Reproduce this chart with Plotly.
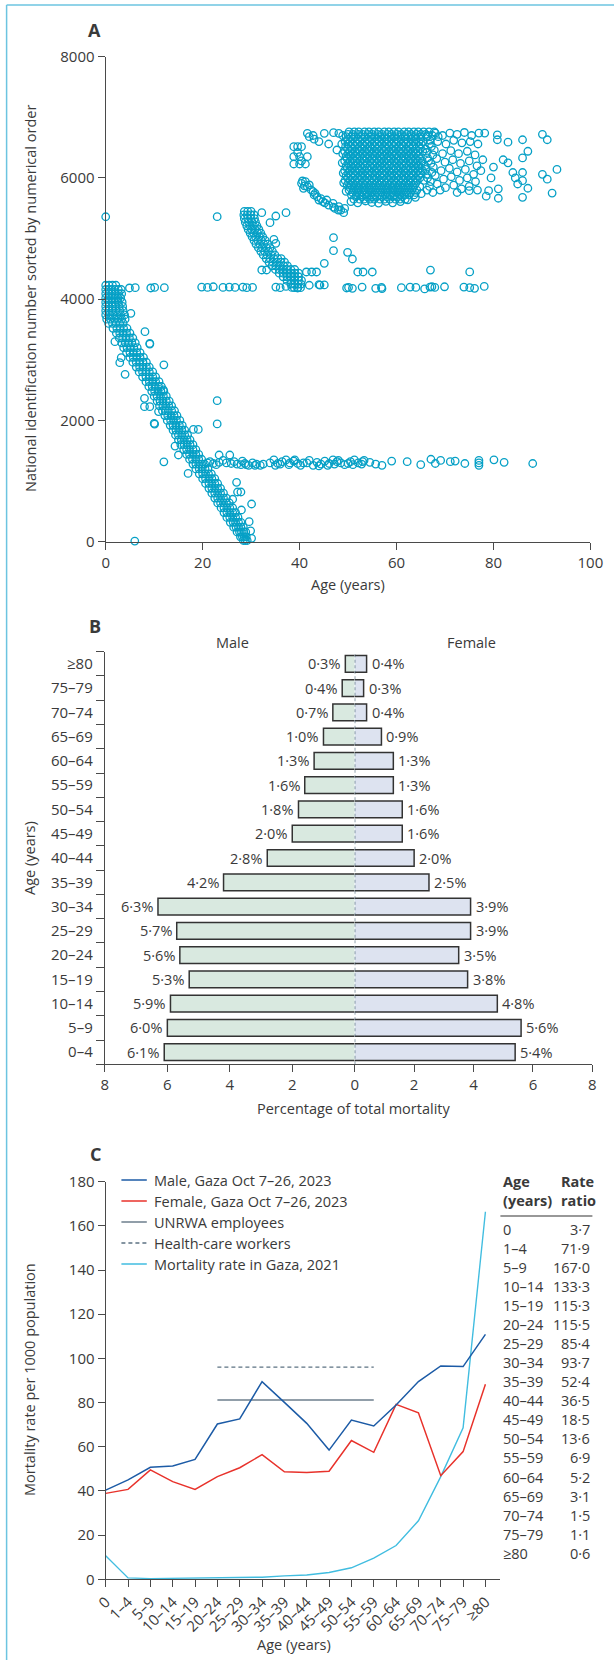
import plotly.graph_objects as go

W, H = 614, 1660
def PX(x): return x / W
def PY(y): return 1 - y / H

FONT = "Open Sans"
TXT = "#3a3a3a"
AXC = "#4a4a4a"
CYAN = "#06a0c6"

# ---------------- Panel A data: (age, national id rank) ----------------
band_rows = [
    (4230, [0.0, 0.7, 1.4, 2.1]),
    (4160, [0.0, 0.6, 1.2, 1.9, 2.6, 3.2]),
    (4090, [0.0, 0.7, 1.3, 2.0, 2.7, 3.3]),
    (4020, [0.0, 0.6, 1.2, 1.8, 2.5, 3.1]),
    (3950, [0.0, 0.6, 1.3, 1.9, 2.6, 3.4]),
    (3880, [0.0, 0.7, 1.4, 2.0, 2.8, 3.5]),
    (3810, [0.0, 0.6, 1.3, 2.1, 2.9, 3.6]),
    (3740, [0.0, 0.8, 1.5, 2.3, 3.1, 3.9]),
    (3670, [0.2, 1.0, 1.8, 2.5, 3.3, 4.0]),
    (3600, [0.6, 1.4, 2.1, 2.9, 3.6]),
    (3520, [1.5, 2.3, 3.0, 3.7, 4.4]),
    (3440, [2.2, 2.9, 3.6, 4.3, 5.0]),
    (3360, [2.8, 3.5, 4.2, 4.9, 5.6]),
    (3280, [3.3, 4.0, 4.7, 5.4, 6.1]),
    (3200, [3.7, 4.4, 5.1, 5.8, 6.5]),
    (3120, [4.3, 5.0, 5.7, 6.4, 7.1]),
    (3040, [5.0, 5.7, 6.4, 7.1, 7.8]),
    (2960, [5.6, 6.3, 7.0, 7.7, 8.4]),
    (2880, [6.3, 7.0, 7.7, 8.4, 9.0]),
    (2800, [6.9, 7.6, 8.3, 9.0, 9.7]),
    (2720, [7.6, 8.3, 9.0, 9.7, 10.3]),
    (2640, [8.3, 9.0, 9.7, 10.3, 11.0]),
    (2560, [8.9, 9.6, 10.2, 10.9, 11.5]),
    (2480, [9.5, 10.1, 10.8, 11.4, 12.0]),
    (2400, [10.0, 10.6, 11.3, 11.9, 12.5]),
    (2320, [10.6, 11.2, 11.8, 12.5, 13.1]),
    (2240, [11.1, 11.8, 12.4, 13.0, 13.6]),
    (2160, [11.7, 12.3, 12.9, 13.6, 14.2]),
    (2080, [12.2, 12.8, 13.5, 14.1, 14.7]),
    (2000, [12.7, 13.4, 14.0, 14.6, 15.3]),
    (1920, [13.3, 13.9, 14.5, 15.2, 15.8]),
    (1840, [13.9, 14.5, 15.1, 15.7, 16.3]),
    (1760, [14.4, 15.0, 15.7, 16.3, 16.9]),
    (1680, [15.0, 15.6, 16.2, 16.8, 17.4]),
    (1600, [15.5, 16.2, 16.8, 17.4, 18.0]),
    (1520, [16.1, 16.7, 17.3, 18.0, 18.6]),
    (1440, [16.7, 17.3, 18.0, 18.6, 19.2]),
    (1360, [17.3, 17.9, 18.6, 19.2, 19.8]),
    (1280, [18.0, 18.6, 19.2, 19.8, 20.4]),
    (1200, [18.6, 19.3, 19.9, 20.5, 21.1]),
    (1120, [19.3, 20.0, 20.6, 21.2, 21.8]),
    (1040, [20.0, 20.6, 21.3, 21.9, 22.5]),
    (960,  [20.6, 21.3, 21.9, 22.5, 23.1]),
    (880,  [21.3, 21.9, 22.5, 23.1, 23.7]),
    (800,  [21.9, 22.5, 23.1, 23.7, 24.3]),
    (720,  [22.5, 23.1, 23.7, 24.3, 24.9]),
    (640,  [23.1, 23.7, 24.3, 24.9, 25.5]),
    (560,  [23.8, 24.4, 25.0, 25.6, 26.2]),
    (480,  [24.4, 25.0, 25.6, 26.2, 26.8]),
    (400,  [25.0, 25.6, 26.2, 26.8, 27.3]),
    (320,  [25.7, 26.3, 26.8, 27.4, 27.9]),
    (240,  [26.4, 26.9, 27.4, 27.9, 28.4]),
    (160,  [27.1, 27.6, 28.0, 28.5, 28.9]),
    (80,   [27.8, 28.2, 28.6, 29.0]),
    (20,   [28.4, 28.8, 29.2]),
]

band_outliers = [
    (8.1, 3464), (9.1, 3271), (9.1, 3260), (12.0, 2918), (4.0, 2761), (2.9, 2953),
    (5.2, 3767), (1.9, 3300), (3.2, 3036), (10.0, 1952), (10.1, 1940), (12.0, 1318),
    (23.0, 2327), (23.0, 1942), (18.1, 1852), (19.1, 1852), (8.0, 2365), (8.0, 2228),
    (9.1, 2228), (10.9, 2146), (11.9, 2503), (14.3, 1578), (15.0, 1430), (17.0, 1127),
    (27.2, 820), (27.9, 820), (28.0, 523), (30.1, 622), (30.1, 55), (6.0, 11), (0.0, 5360),
    (29.6, 330), (29.9, 180), (27.0, 980), (26.2, 700),
]

row_4200 = [
    (4.9, 4185), (6.1, 4190), (9.3, 4185), (10.1, 4195), (12.1, 4190), (19.8, 4200),
    (21.0, 4195), (22.2, 4205), (24.2, 4195), (25.5, 4200), (26.7, 4195), (28.3, 4200),
    (29.1, 4190), (30.3, 4195), (35.1, 4200), (36.0, 4190), (37.2, 4210), (38.4, 4195),
    (39.6, 4185), (42.0, 4230), (44.0, 4240), (45.1, 4235), (49.7, 4185), (50.1, 4195),
    (50.9, 4180), (52.9, 4200), (55.7, 4180), (56.9, 4195), (57.0, 4175), (61.0, 4190),
    (62.8, 4200), (64.0, 4195), (65.8, 4170), (66.9, 4200), (67.3, 4205), (67.9, 4195),
    (69.9, 4205), (73.9, 4200), (75.1, 4190), (76.1, 4180), (78.1, 4210),
]

mid_rows = [
    (5450, [28.6, 29.3, 30.0]),
    (5390, [28.5, 29.2, 29.9, 30.6]),
    (5330, [28.6, 29.3, 30.0, 30.7]),
    (5270, [28.8, 29.5, 30.2, 30.9]),
    (5210, [29.1, 29.8, 30.5, 31.2]),
    (5150, [29.4, 30.1, 30.8, 31.6]),
    (5090, [29.8, 30.5, 31.3, 32.0]),
    (5030, [30.2, 30.9, 31.7, 32.4]),
    (4970, [30.6, 31.4, 32.1, 32.9]),
    (4910, [31.0, 31.8, 32.6, 33.4]),
    (4850, [31.5, 32.3, 33.1, 33.9]),
    (4790, [32.0, 32.8, 33.6, 34.4]),
    (4730, [32.5, 33.3, 34.1, 34.9]),
    (4670, [33.1, 33.9, 34.7, 35.5, 36.2]),
    (4610, [33.7, 34.5, 35.3, 36.1, 36.9]),
    (4550, [34.3, 35.1, 35.9, 36.7, 37.5]),
    (4490, [35.0, 35.8, 36.6, 37.4, 38.2, 39.0]),
    (4430, [35.8, 36.6, 37.4, 38.2, 39.0, 39.8]),
    (4370, [36.6, 37.4, 38.2, 39.0, 39.8]),
    (4310, [37.4, 38.2, 39.0, 39.8, 40.4]),
    (4250, [38.2, 39.0, 39.7, 40.3]),
    (4190, [38.9, 39.6, 40.2]),
]

mid_outliers = [
    (32.2, 5427), (35.1, 5372), (33.9, 5262), (37.2, 5427), (34.7, 4988), (35.1, 4922),
    (47.0, 5015), (47.0, 4800), (45.1, 4592), (49.9, 4773), (50.9, 4663), (23.0, 5361),
    (32.2, 4482), (33.2, 4482), (41.4, 4449), (42.5, 4449), (43.5, 4449), (52.0, 4449),
    (53.1, 4449), (55.0, 4449), (67.0, 4480), (75.1, 4450), (44.2, 4233),
]

upper_small = [
    (38.8, 6516), (39.6, 6516), (40.4, 6516), (38.8, 6351), (40.0, 6351), (41.6, 6351),
    (38.8, 6230), (40.0, 6230), (41.2, 6230), (41.6, 6736), (42.0, 6681), (42.8, 6700),
    (45.1, 6736), (47.0, 6747), (48.1, 6736), (46.0, 6560), (47.7, 6461), (39.6, 6420),
    (40.4, 6280), (43.0, 6640), (44.0, 6600),
]

upper_diag = [
    (40.4, 5911), (41.2, 5938), (42.0, 5884), (40.8, 5829), (41.6, 5856), (42.4, 5801),
    (43.2, 5746), (43.6, 5691), (44.0, 5636), (44.8, 5609), (45.6, 5636), (46.0, 5553),
    (46.9, 5581), (47.3, 5498), (48.1, 5526), (48.5, 5471), (49.1, 5427), (49.3, 5498),
    (41.0, 5870), (42.8, 5775), (44.4, 5660), (45.2, 5590), (47.0, 5520), (48.0, 5470),
    (40.6, 5950), (43.0, 5720),
]

core_rows = [
    (6760, [50.2, 51.3, 52.2, 53.4, 54.3, 55.4, 56.3, 57.5, 58.4, 59.5, 60.4, 61.6, 62.5, 63.6, 64.5, 65.6, 66.7, 67.8]),
    (6680, [49.6, 50.7, 51.6, 52.7, 53.6, 54.8, 55.7, 56.8, 57.7, 58.9, 59.8, 60.9, 61.8, 63.0, 63.9, 65.0, 66.2]),
    (6600, [49.4, 50.4, 51.5, 52.4, 53.5, 54.4, 55.5, 56.4, 57.5, 58.4, 59.5, 60.4, 61.5, 62.4, 63.5, 64.6, 65.5]),
    (6520, [49.5, 50.6, 51.5, 52.6, 53.5, 54.6, 55.6, 56.5, 57.6, 58.5, 59.6, 60.6, 61.5, 62.6, 63.5, 64.7]),
    (6440, [49.3, 50.3, 51.4, 52.3, 53.4, 54.3, 55.4, 56.4, 57.3, 58.4, 59.3, 60.4, 61.4, 62.3, 63.4, 64.4, 65.4]),
    (6360, [49.6, 50.6, 51.6, 52.5, 53.6, 54.5, 55.6, 56.6, 57.5, 58.6, 59.6, 60.5, 61.6, 62.6, 63.6, 64.6]),
    (6280, [49.3, 50.4, 51.3, 52.4, 53.3, 54.4, 55.4, 56.3, 57.4, 58.3, 59.4, 60.4, 61.3, 62.4, 63.4, 64.3, 65.3]),
    (6200, [49.6, 50.6, 51.6, 52.6, 53.5, 54.6, 55.5, 56.6, 57.6, 58.5, 59.6, 60.6, 61.5, 62.6, 63.6, 64.6]),
    (6120, [49.3, 50.3, 51.4, 52.3, 53.4, 54.3, 55.4, 56.4, 57.3, 58.4, 59.4, 60.3, 61.4, 62.4, 63.3, 64.4, 65.4]),
    (6040, [49.6, 50.6, 51.5, 52.6, 53.6, 54.5, 55.6, 56.6, 57.5, 58.6, 59.6, 60.5, 61.6, 62.6, 63.5, 64.6]),
    (5960, [49.4, 50.4, 51.4, 52.3, 53.4, 54.4, 55.3, 56.4, 57.4, 58.3, 59.4, 60.4, 61.3, 62.4, 63.4, 64.3]),
    (5880, [49.8, 50.7, 51.7, 52.7, 53.6, 54.7, 55.7, 56.6, 57.7, 58.7, 59.6, 60.7, 61.7, 62.6, 63.7]),
    (5800, [50.2, 51.2, 52.1, 53.2, 54.2, 55.1, 56.2, 57.2, 58.1, 59.2, 60.2, 61.1, 62.2, 63.2, 64.2]),
    (5720, [50.7, 51.7, 52.6, 53.7, 54.7, 55.6, 56.7, 57.7, 58.7, 59.6, 60.7, 61.7, 62.6, 63.6]),
    (5650, [51.2, 52.4, 53.3, 54.5, 55.4, 56.6, 57.5, 58.6, 59.8, 60.7, 61.8]),
]

core_rows_between = [
    (6720, [50.0, 51.0, 52.1, 53.0, 54.1, 55.0, 56.1, 57.0, 58.1, 59.0, 60.1, 61.0, 62.1, 63.0, 64.1, 65.0, 66.0]),
    (6640, [49.9, 50.9, 52.0, 52.9, 54.0, 54.9, 56.0, 56.9, 58.0, 58.9, 60.0, 60.9, 62.0, 62.9, 64.0, 65.0]),
    (6560, [50.0, 51.0, 51.9, 53.0, 53.9, 55.0, 56.0, 56.9, 58.0, 59.0, 59.9, 61.0, 62.0, 62.9, 64.0, 65.1]),
    (6480, [49.9, 50.8, 51.9, 52.8, 53.9, 54.8, 55.9, 56.9, 57.8, 58.9, 59.8, 60.9, 61.9, 62.8, 63.9, 64.9]),
    (6400, [50.1, 51.1, 52.0, 53.1, 54.0, 55.1, 56.1, 57.0, 58.1, 59.1, 60.0, 61.1, 62.1, 63.1, 64.1]),
    (6320, [49.8, 50.9, 51.8, 52.9, 53.8, 54.9, 55.9, 56.8, 57.9, 58.8, 59.9, 60.9, 61.8, 62.9, 63.9, 64.8]),
    (6240, [50.1, 51.1, 52.1, 53.1, 54.0, 55.1, 56.0, 57.1, 58.1, 59.0, 60.1, 61.1, 62.0, 63.1, 64.1, 65.1]),
    (6160, [49.8, 50.8, 51.9, 52.8, 53.9, 54.8, 55.9, 56.9, 57.8, 58.9, 59.9, 60.8, 61.9, 62.9, 63.8, 64.9]),
    (6080, [50.1, 51.1, 52.0, 53.1, 54.1, 55.0, 56.1, 57.1, 58.0, 59.1, 60.1, 61.0, 62.1, 63.1, 64.0, 65.0]),
    (6000, [49.9, 50.9, 51.9, 52.8, 53.9, 54.9, 55.8, 56.9, 57.9, 58.8, 59.9, 60.9, 61.8, 62.9, 63.9, 64.8]),
    (5920, [50.1, 51.0, 52.0, 53.0, 54.0, 55.0, 56.0, 57.0, 58.0, 59.0, 60.0, 61.0, 62.0, 63.0, 64.0]),
    (5840, [50.4, 51.4, 52.4, 53.4, 54.4, 55.4, 56.4, 57.4, 58.4, 59.4, 60.4, 61.4, 62.4, 63.4]),
    (5760, [50.9, 51.9, 52.9, 53.9, 54.9, 55.9, 56.9, 57.9, 58.9, 59.9, 60.9, 61.9, 62.9, 63.9]),
    (5690, [51.6, 52.9, 53.9, 55.0, 55.9, 57.0, 58.0, 59.2, 60.2, 61.2]),
]

core_edges = [
    (50.6, 5610), (52.0, 5590), (53.6, 5620), (54.9, 5595), (56.3, 5585), (57.8, 5615),
    (59.2, 5590), (60.8, 5610), (62.3, 5640), (63.9, 5680), (65.1, 5740), (64.8, 5860),
    (65.6, 5960), (66.2, 6060), (65.9, 6200), (66.4, 6330), (66.0, 6480), (66.9, 6620),
    (48.9, 6700), (48.7, 6560), (48.9, 6400), (48.8, 6250), (49.0, 6080), (49.1, 5920),
    (49.6, 5780), (67.4, 6700), (68.6, 6680), (67.2, 6520), (67.5, 6380), (67.1, 6240),
    (67.3, 6090), (67.0, 5940), (66.3, 5800),
]

core_sparse = [
    (66.5, 6700), (68.0, 6740), (69.5, 6700), (71.0, 6740), (72.5, 6720), (74.0, 6750),
    (75.5, 6700), (77.0, 6740), (66.8, 6560), (68.5, 6600), (70.2, 6560), (71.8, 6620),
    (73.5, 6580), (75.2, 6600), (76.8, 6560), (66.2, 6420), (67.8, 6460), (69.5, 6400),
    (71.2, 6450), (72.8, 6400), (74.6, 6440), (76.2, 6380), (77.8, 6300), (66.6, 6280),
    (68.3, 6320), (70.0, 6260), (71.6, 6300), (73.2, 6240), (75.0, 6280), (76.6, 6200),
    (66.0, 6140), (67.6, 6180), (69.2, 6120), (70.9, 6160), (72.5, 6100), (74.2, 6140),
    (75.9, 6060), (77.4, 6120), (66.4, 6000), (68.0, 6040), (69.7, 5980), (71.3, 6020),
    (73.0, 5960), (74.6, 6000), (76.3, 5940), (66.8, 5860), (68.4, 5900), (70.1, 5840),
    (71.8, 5880), (73.4, 5820), (75.0, 5860), (76.7, 5800), (67.5, 5760), (69.0, 5800),
    (72.5, 5760), (75.0, 5790),
]

core_outliers = [
    (80.8, 6710), (80.8, 6630), (83.0, 6590), (86.0, 6630), (87.1, 6440), (86.0, 6330),
    (90.1, 6720), (91.1, 6630), (93.1, 6140), (90.1, 6060), (91.1, 5980), (92.1, 5750),
    (87.1, 5830), (86.0, 5680), (86.0, 5955), (86.0, 6090), (84.0, 6090), (83.0, 6250),
    (81.0, 5665), (81.0, 5820), (79.0, 5790), (78.2, 6740), (82.0, 6300), (80.0, 6180),
    (79.5, 6000), (84.5, 6000), (85.0, 5900), (78.5, 5700),
]

row_1300 = [
    (21.0, 1300), (22.2, 1290), (23.4, 1310), (24.9, 1300), (25.9, 1290), (27.1, 1280),
    (27.9, 1270), (28.7, 1290), (29.5, 1260), (30.3, 1300), (31.1, 1280), (31.9, 1260),
    (33.9, 1300), (34.7, 1350), (35.5, 1290), (36.4, 1320), (37.2, 1350), (38.0, 1300),
    (38.8, 1330), (39.6, 1290), (40.8, 1300), (42.0, 1340), (42.8, 1260), (43.6, 1310),
    (44.4, 1280), (45.2, 1330), (46.1, 1290), (46.9, 1350), (47.7, 1320), (48.5, 1300),
    (49.3, 1270), (50.5, 1320), (51.3, 1350), (52.1, 1300), (53.3, 1340), (54.5, 1310),
    (55.7, 1280), (57.0, 1260), (59.0, 1330), (62.2, 1320), (65.0, 1270), (67.1, 1360),
    (68.0, 1290), (69.1, 1340), (71.1, 1320), (72.1, 1330), (74.1, 1290), (77.0, 1260),
    (77.0, 1300), (77.0, 1340), (80.1, 1350), (82.2, 1310), (88.1, 1290), (23.4, 1430),
    (25.6, 1430), (21.5, 1320), (22.8, 1270), (24.2, 1340), (26.5, 1320), (28.2, 1330),
    (29.0, 1270), (30.8, 1260), (32.5, 1280), (35.0, 1260), (36.0, 1280), (37.8, 1270),
    (39.0, 1350), (40.2, 1260), (41.5, 1300), (44.0, 1250), (45.8, 1260), (47.2, 1280),
    (48.0, 1340), (50.0, 1290), (51.0, 1270), (52.8, 1280), (53.0, 1320),
]

# ---------------- Panel B data ----------------
age_groups_b = ["0–4", "5–9", "10–14", "15–19", "20–24", "25–29", "30–34", "35–39",
                "40–44", "45–49", "50–54", "55–59", "60–64", "65–69", "70–74", "75–79", "≥80"]
male_pct = [6.1, 6.0, 5.9, 5.3, 5.6, 5.7, 6.3, 4.2, 2.8, 2.0, 1.8, 1.6, 1.3, 1.0, 0.7, 0.4, 0.3]
female_pct = [5.4, 5.6, 4.8, 3.8, 3.5, 3.9, 3.9, 2.5, 2.0, 1.6, 1.6, 1.3, 1.3, 0.9, 0.4, 0.3, 0.4]

# ---------------- Panel C data ----------------
age_groups_c = ["0", "1–4", "5–9", "10–14", "15–19", "20–24", "25–29", "30–34", "35–39",
                "40–44", "45–49", "50–54", "55–59", "60–64", "65–69", "70–74", "75–79", "≥80"]
male_rate = [40.4, 45.0, 50.7, 51.3, 54.3, 70.3, 72.6, 89.5, 80.1, 70.6, 58.5, 72.1, 69.4, 78.9, 89.5, 96.6, 96.3, 110.9]
female_rate = [38.9, 40.7, 49.5, 44.2, 40.7, 46.5, 50.5, 56.4, 48.7, 48.4, 48.9, 62.8, 57.5, 79.2, 75.4, 46.9, 57.8, 88.3]
gaza2021_rate = [10.7, 0.63, 0.30, 0.39, 0.47, 0.61, 0.85, 0.96, 1.53, 1.93, 3.1, 5.2, 9.6, 15.3, 26.5, 46.5, 68.6, 166.4]
unrwa_rate = 81.2
hcw_rate = 96.1
unrwa_span = ["20–24", "55–59"]
rate_ratio = ["3·7", "71·9", "167·0", "133·3", "115·3", "115·5", "85·4", "93·7", "52·4",
              "36·5", "18·5", "13·6", "6·9", "5·2", "3·1", "1·5", "1·1", "0·6"]

legend_items = ["Male, Gaza Oct 7–26, 2023", "Female, Gaza Oct 7–26, 2023", "UNRWA employees",
                "Health-care workers", "Mortality rate in Gaza, 2021"]

# ---------------- Build panel A points ----------------
ax, ay = [], []
for rid, ages in band_rows + mid_rows + core_rows + core_rows_between:
    for a in ages:
        ax.append(a); ay.append(rid)
for pts in (band_outliers, row_4200, mid_outliers, upper_small, upper_diag, core_edges,
            core_sparse, core_outliers, row_1300):
    for a, i in pts:
        ax.append(a); ay.append(i)

fig = go.Figure()

fig.add_trace(go.Scatter(
    x=ax, y=ay, mode="markers", xaxis="x", yaxis="y", cliponaxis=False,
    marker=dict(symbol="circle-open", size=7.5, color=CYAN, line=dict(width=1.3, color=CYAN)),
    showlegend=False, hoverinfo="skip"))

# ---------------- Panel B traces ----------------
MALE_FILL = "#d9e9e0"
FEM_FILL = "#dde3f0"
ypos = list(range(len(age_groups_b)))
half = 0.345
fmt = lambda v: f"{v:.1f}%".replace(".", "·")

fig.add_trace(go.Bar(
    x=male_pct, y=ypos, orientation="h", xaxis="x2", yaxis="y2", width=2 * half,
    marker=dict(color=MALE_FILL, line=dict(width=0)), showlegend=False, hoverinfo="skip"))
fig.add_trace(go.Bar(
    x=female_pct, y=ypos, orientation="h", xaxis="x3", yaxis="y2", width=2 * half,
    marker=dict(color=FEM_FILL, line=dict(width=0)), showlegend=False, hoverinfo="skip"))

for vals, xa in ((male_pct, "x2"), (female_pct, "x3")):
    ox, oy = [], []
    for i, v in enumerate(vals):
        ox += [0, v, v, 0, None]
        oy += [i + half, i + half, i - half, i - half, None]
    fig.add_trace(go.Scatter(x=ox, y=oy, mode="lines", xaxis=xa, yaxis="y2",
                             line=dict(color="#333333", width=1.5), cliponaxis=False,
                             showlegend=False, hoverinfo="skip"))

# ---------------- Panel C traces ----------------
xi = list(range(len(age_groups_c)))
C_MALE = "#1c5ba6"
C_FEM = "#e8322b"
C_2021 = "#41bde0"
C_UNRWA = "#6d7e8c"
C_HCW = "#5c7282"
i0 = age_groups_c.index(unrwa_span[0]); i1 = age_groups_c.index(unrwa_span[1])

fig.add_trace(go.Scatter(x=xi, y=gaza2021_rate, mode="lines", xaxis="x4", yaxis="y4",
                         line=dict(color=C_2021, width=1.4), showlegend=False, hoverinfo="skip"))
fig.add_trace(go.Scatter(x=[i0, i1], y=[unrwa_rate, unrwa_rate], mode="lines", xaxis="x4", yaxis="y4",
                         line=dict(color=C_UNRWA, width=1.6), showlegend=False, hoverinfo="skip"))
fig.add_trace(go.Scatter(x=[i0, i1], y=[hcw_rate, hcw_rate], mode="lines", xaxis="x4", yaxis="y4",
                         line=dict(color=C_HCW, width=1.3, dash="4px,3px"), showlegend=False, hoverinfo="skip"))
fig.add_trace(go.Scatter(x=xi, y=female_rate, mode="lines", xaxis="x4", yaxis="y4",
                         line=dict(color=C_FEM, width=1.5), showlegend=False, hoverinfo="skip"))
fig.add_trace(go.Scatter(x=xi, y=male_rate, mode="lines", xaxis="x4", yaxis="y4",
                         line=dict(color=C_MALE, width=1.5), showlegend=False, hoverinfo="skip"))

# ---------------- Axes ----------------
tickfont = dict(family=FONT, size=15, color=TXT)
common = dict(showline=True, linecolor=AXC, linewidth=1.3, ticks="outside", ticklen=7,
              tickwidth=1.3, tickcolor=AXC, showgrid=False, zeroline=False, tickfont=tickfont,
              automargin=False)

layout = dict(
    width=W, height=H, autosize=False,
    margin=dict(l=0, r=0, t=0, b=0, pad=0, autoexpand=False),
    paper_bgcolor="white", plot_bgcolor="rgba(0,0,0,0)", barmode="overlay", showlegend=False,
    font=dict(family=FONT, color=TXT),
    xaxis=dict(domain=[PX(105.7), PX(590.4)], range=[0, 100], anchor="y",
               tickvals=[0, 20, 40, 60, 80, 100], **common),
    yaxis=dict(domain=[PY(541.7), PY(56.7)], range=[0, 8000], anchor="x",
               tickvals=[0, 2000, 4000, 6000, 8000], tickformat="d", **common),
    xaxis2=dict(domain=[PX(104.9), PX(354.7)], range=[8, 0], anchor="y2",
                tickvals=[0, 2, 4, 6, 8], **common),
    xaxis3=dict(domain=[PX(354.7), PX(592.4)], range=[0, 8], anchor="y2",
                tickvals=[2, 4, 6, 8], **common),
    yaxis2=dict(domain=[PY(1064.3), PY(651.7)], range=[-0.5, 16.5], anchor="x2",
                tickvals=ypos, ticktext=age_groups_b, showline=True, linecolor=AXC, linewidth=1.3,
                ticks="outside", ticklen=8, tickcolor="rgba(0,0,0,0)", showgrid=False, zeroline=False,
                tickfont=tickfont, automargin=False,
                minor=dict(tickmode="linear", tick0=-0.5, dtick=1, ticks="outside", ticklen=8,
                           tickwidth=1.3, tickcolor=AXC, showgrid=False)),
    xaxis4=dict(domain=[PX(105.7), PX(500.4)], range=[0, 17.67], anchor="y4",
                tickvals=xi, ticktext=age_groups_c, tickangle=-45, **common),
    yaxis4=dict(domain=[PY(1579.3), PY(1181.7)], range=[0, 180], anchor="x4",
                tickvals=list(range(0, 181, 20)), **common),
)
fig.update_layout(**layout)

# ---------------- Shapes & annotations ----------------
shapes = []
FRAME = "#6cc4e0"
shapes.append(dict(type="line", xref="paper", yref="paper", x0=PX(6.6), x1=PX(6.6), y0=PY(5), y1=0,
                   line=dict(color=FRAME, width=1.5)))
shapes.append(dict(type="line", xref="paper", yref="paper", x0=PX(6.6), x1=1, y0=PY(5), y1=PY(5),
                   line=dict(color=FRAME, width=1.5)))
shapes.append(dict(type="line", xref="x3", yref="paper", x0=0, x1=0, y0=PY(1064.3), y1=PY(651.7),
                   line=dict(color="#3f5a6c", width=1.2, dash="3px,2.5px"), layer="above"))

annots = []
def txt(x, y, s, size=14.5, xanchor="center", yanchor="middle", bold=False, angle=0):
    annots.append(dict(x=PX(x), y=PY(y), xref="paper", yref="paper", text=(f"<b>{s}</b>" if bold else s),
                       showarrow=False, xanchor=xanchor, yanchor=yanchor, textangle=angle,
                       font=dict(family=FONT, size=size, color=TXT)))

for i, v in enumerate(male_pct):
    annots.append(dict(x=v, y=i, xref="x2", yref="y2", text=fmt(v), showarrow=False,
                       xanchor="right", yanchor="middle", xshift=-3,
                       font=dict(family=FONT, size=14.5, color=TXT)))
for i, v in enumerate(female_pct):
    annots.append(dict(x=v, y=i, xref="x3", yref="y2", text=fmt(v), showarrow=False,
                       xanchor="left", yanchor="middle", xshift=3,
                       font=dict(family=FONT, size=14.5, color=TXT)))

txt(86, 30, "A", size=18, xanchor="left", bold=True)
txt(87, 626, "B", size=18, xanchor="left", bold=True)
txt(88, 1154, "C", size=18, xanchor="left", bold=True)

txt(30, 299, "National identification number sorted by numerical order", angle=-90)
txt(348, 585, "Age (years)")
txt(232.2, 642, "Male")
txt(471.8, 642, "Female")
txt(30, 858, "Age (years)", angle=-90)
txt(353, 1108, "Percentage of total mortality")
txt(29, 1380, "Mortality rate per 1000 population", angle=-90)
txt(293.7, 1644, "Age (years)")

leg_colors = [C_MALE, C_FEM, C_UNRWA, C_HCW, C_2021]
leg_dash = ["solid", "solid", "solid", "4px,3px", "solid"]
leg_y = [1180, 1201, 1222, 1243, 1264]
for lab, col, dsh, yy in zip(legend_items, leg_colors, leg_dash, leg_y):
    shapes.append(dict(type="line", xref="paper", yref="paper", x0=PX(121.4), x1=PX(146.8),
                       y0=PY(yy), y1=PY(yy), line=dict(color=col, width=1.5, dash=dsh)))
    txt(151.5, yy, lab, xanchor="left")

txt(501.2, 1181.7, "Age", xanchor="left", bold=True)
txt(501.2, 1200, "(years)", xanchor="left", bold=True)
txt(558.7, 1181.7, "Rate", xanchor="left", bold=True)
txt(558.7, 1200, "ratio", xanchor="left", bold=True)
shapes.append(dict(type="line", xref="paper", yref="paper", x0=PX(500.4), x1=PX(592.4),
                   y0=PY(1216), y1=PY(1216), line=dict(color="#333333", width=1.2)))
for k, (ag, rr) in enumerate(zip(age_groups_c, rate_ratio)):
    yy = 1229 + 19.08 * k
    txt(501.2, yy, ag, xanchor="left")
    txt(592.4, yy, rr, xanchor="right")

fig.update_layout(shapes=shapes, annotations=annots)
fig.write_html(
    "out.html",
    config={"displayModeBar": False, "responsive": False},
    post_script=("document.documentElement.style.margin='0';document.body.style.margin='0';"
                 "document.body.style.padding='0';document.documentElement.style.overflow='hidden';"
                 "document.body.style.overflow='hidden';"),
)
